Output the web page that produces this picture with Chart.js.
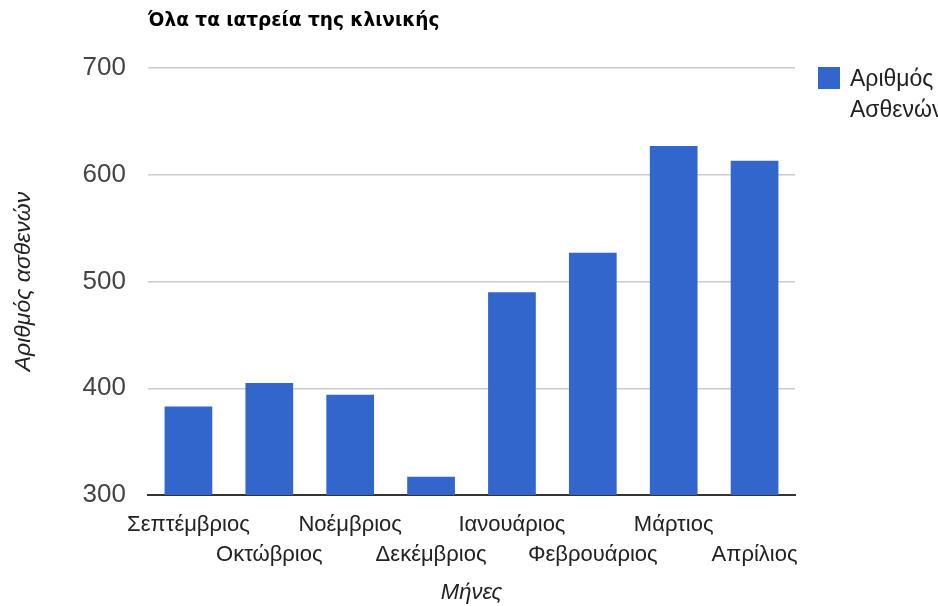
<!DOCTYPE html>
<html>
<head>
<meta charset="utf-8">
<script src="https://cdn.jsdelivr.net/npm/chart.js@4.4.1/dist/chart.umd.min.js"></script>
<style>
  html, body { margin: 0; padding: 0; background: #fff; }
  #wrap { width: 938px; height: 606px; position: relative; }
</style>
</head>
<body>
<div id="wrap"><canvas id="myChart" width="938" height="606"></canvas></div>
<script>
const months = ["Σεπτέμβριος", "Οκτώβριος", "Νοέμβριος", "Δεκέμβριος", "Ιανουάριος", "Φεβρουάριος", "Μάρτιος", "Απρίλιος"];
const patients = [383, 405, 394, 317, 490, 527, 627, 613];
const yTicks = [300, 400, 500, 600, 700];
const seriesName = "Αριθμός Ασθενών";
const chartTitle = "Όλα τα ιατρεία της κλινικής";

const font = "'Liberation Sans', Arial, sans-serif";

// alternate the month labels over two rows, like the original
const staggered = months.map((m, i) => i % 2 === 0 ? [m, ""] : ["", m]);

const sideBits = {
  id: "sideBits",
  afterDraw(chart) {
    const ctx = chart.ctx;
    const area = chart.chartArea;
    ctx.save();
    // title
    ctx.fillStyle = "#000";
    ctx.font = "bold 18.5px 'DejaVu Sans', sans-serif";
    ctx.textBaseline = "middle";
    ctx.textAlign = "left";
    ctx.fillText(chartTitle, area.left, 21);
    // legend
    const ds = chart.data.datasets[0];
    ctx.fillStyle = ds.backgroundColor;
    ctx.fillRect(818, 67, 22, 22);
    ctx.fillStyle = "#222";
    ctx.font = "23px " + font;
    const words = ds.label.split(" ");
    ctx.fillText(words[0], 850, 80);
    ctx.fillText(words[1], 850, 111);
    ctx.restore();
  }
};

new Chart(document.getElementById("myChart").getContext("2d"), {
  type: "bar",
  data: {
    labels: staggered,
    datasets: [{
      label: seriesName,
      data: patients,
      backgroundColor: "#3366cc",
      barPercentage: 0.59,
      categoryPercentage: 1.0
    }]
  },
  options: {
    responsive: false,
    animation: false,
    layout: { padding: { top: 68, right: 143, left: 0, bottom: 0 } },
    plugins: {
      legend: { display: false },
      title: { display: false },
      tooltip: { enabled: false }
    },
    scales: {
      x: {
        grid: { display: false },
        border: { color: "#333", width: 2 },
        ticks: {
          color: "#222",
          font: { family: font, size: 22, lineHeight: 1.36 },
          maxRotation: 0,
          autoSkip: false,
          padding: 7
        },
        title: {
          display: true,
          text: "Μήνες",
          color: "#222",
          font: { family: font, size: 22, style: "italic" },
          padding: { top: 20, bottom: 0 }
        },
        afterFit(scale) { scale.height = 111; }
      },
      y: {
        min: 300,
        max: 700,
        afterBuildTicks(scale) { scale.ticks = yTicks.map(v => ({ value: v })); },
        grid: { color: "#cccccc", lineWidth: 1.5, drawTicks: false },
        border: { display: false },
        ticks: {
          color: "#444",
          font: { family: font, size: 26 },
          padding: 22
        },
        title: {
          display: true,
          text: "Αριθμός ασθενών",
          color: "#222",
          font: { family: font, size: 23, style: "italic" },
          padding: { top: 10, bottom: 8 }
        },
        afterFit(scale) { scale.width = 148; }
      }
    }
  },
  plugins: [sideBits]
});
</script>
</body>
</html>
